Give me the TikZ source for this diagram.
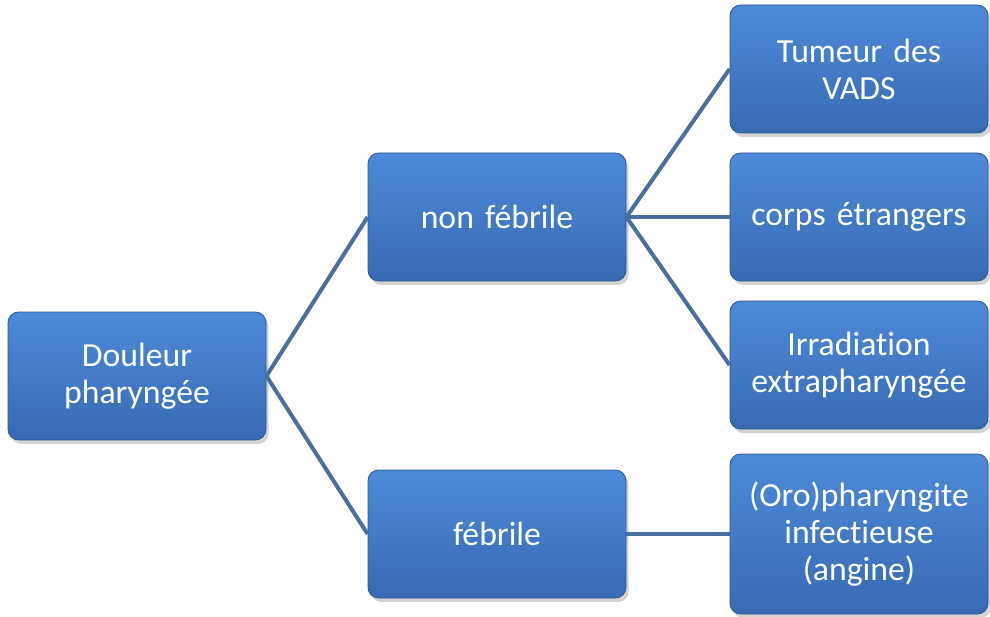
\documentclass[tikz,border=0pt]{standalone}
\usepackage{fontspec}
\setmainfont[Ligatures=NoCommon,WordSpace=0.85]{Carlito}
\usetikzlibrary{shadows}
\definecolor{boxtop}{HTML}{4D8AD8}
\definecolor{boxbot}{HTML}{386AB3}
\definecolor{linkblue}{HTML}{4A6E9E}
\tikzstyle{bx} = [rectangle, rounded corners=8, top color=boxtop, bottom color=boxbot,
    draw=boxbot!80!black, line width=0.6, text=white, font=\fontsize{25.3}{27.8}\selectfont,
    minimum width=193.5pt, minimum height=96pt, text width=184pt, align=center,
    drop shadow={shadow xshift=2pt, shadow yshift=-3pt, opacity=0.35}]

\begin{document}
\begin{tikzpicture}[x=0.75pt,y=-0.75pt,line width=3pt,draw=linkblue]
  \useasboundingbox (0,0) rectangle (990,617);

  \node[bx] (douleur)   at (137,376) {Douleur\\pharyngée};
  \node[bx] (nonfeb)    at (497,217) {non fébrile};
  \node[bx] (feb)       at (497,534) {fébrile};
  \node[bx] (tumeur)    at (859,69)  {Tumeur des\\VADS};
  \node[bx] (corps)     at (859,217) {corps étrangers};
  \node[bx] (irrad)     at (859,365) {Irradiation\\extrapharyngée};
  \node[bx, minimum height=120pt] (oro) at (859,534) {(Oro)pharyngite\\infectieuse\\(angine)};

  \path[draw=linkblue] (douleur.east) edge (nonfeb.west)
        (douleur.east) edge (feb.west)
        (nonfeb.east) edge (tumeur.west)
        (nonfeb.east) edge (corps.west)
        (nonfeb.east) edge (irrad.west)
        (feb.east) edge (oro.west);
\end{tikzpicture}
\end{document}
